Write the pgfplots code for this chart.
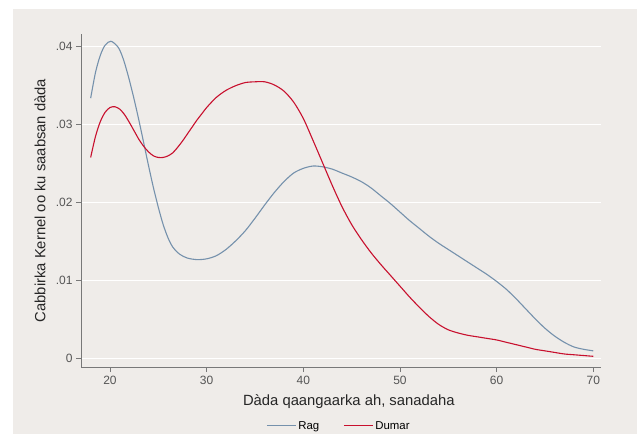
\documentclass[border=0pt]{standalone}
\usepackage{pgfplots}
\pgfplotsset{compat=1.18}
\usepackage{fontspec}
\setmainfont{Liberation Sans}

\definecolor{bgc}{RGB}{239,236,233}
\definecolor{rag}{RGB}{117,145,172}
\definecolor{dumar}{RGB}{200,16,46}
\definecolor{axc}{RGB}{120,120,120}
\definecolor{tickc}{RGB}{85,85,85}

\begin{document}
\begin{tikzpicture}
\useasboundingbox (0pt,0pt) rectangle (637pt,434pt);
\fill[bgc] (13pt,0pt) rectangle (637pt,425pt);
\begin{axis}[
  at={(81pt,67pt)}, anchor=south west,
  scale only axis, width=520pt, height=333pt,
  xmin=17, xmax=70.8, ymin=-0.00107, ymax=0.04163,
  axis x line*=bottom, axis y line*=left,
  axis line style={axc, line width=1pt, -},
  xtick={20,30,...,70},
  ytick={0,0.01,0.02,0.03,0.04},
  yticklabels={0,.01,.02,.03,.04},
  tick align=outside, major tick length=5pt,
  tick style={axc, line width=0.8pt},
  ymajorgrids, grid style={white, line width=1pt},
  /pgf/number format/assume math mode=true,
  tick label style={tickc, font=\fontsize{12}{14}\selectfont},
  xticklabel style={yshift=-1pt},
  scaled y ticks=false,
  xlabel={Dàda qaangaarka ah, sanadaha},
  ylabel={Cabbirka Kernel oo ku saabsan dàda},
  label style={black!85, font=\fontsize{14.8}{17}\selectfont},
  xlabel style={at={(axis description cs:0.515,-0.105)}, anchor=center},
  ylabel style={at={(axis description cs:-0.079,0.5)}, anchor=center},
  legend columns=2,
  legend style={draw=none, fill=none, at={(0.496,-0.177)}, anchor=center,
    font=\fontsize{11.4}{13}\selectfont,
    /tikz/every even column/.append style={column sep=22pt}},
  legend image code/.code={\draw[#1] (0pt,0pt) -- (29pt,0pt);},
]
% Rag
\addplot[rag, line width=1.1pt, smooth] coordinates {
(18,.0334) (18.5,.0367) (19,.0389) (19.5,.0402) (20.1,.0407)
(20.86,.0399) (21.38,.0384) (21.9,.0362) (22.41,.0337) (22.93,.0309)
(23.45,.0279) (23.96,.0249) (24.48,.0220) (25,.0194) (25.5,.0172)
(26,.0155) (26.5,.0143) (27.2,.0134) (28,.0129) (29,.0127)
(30,.0128) (31,.0132) (32,.0140) (33,.0151) (34,.0164)
(35,.0180) (36,.0197) (37,.0213) (38,.0227) (39,.0238)
(40,.0244) (41,.0247) (42,.0246) (43,.0243) (44,.0238)
(45,.0233) (46,.0227) (47,.0219) (48,.0209) (49,.0199)
(50,.0188) (51,.0177) (52,.0167) (53,.0157) (54,.0148)
(55,.0140) (56,.0132) (57,.0124) (58,.0116) (59,.0108)
(60,.0099) (61,.0089) (62,.0077) (63,.0064) (64,.0051)
(65,.0039) (66,.0029) (67,.0021) (68,.0015) (69,.0012)
(70,.0010)
};
\addlegendentry{Rag}
% Dumar
\addplot[dumar, line width=1.1pt, smooth] coordinates {
(18,.0258) (18.5,.0285) (19,.0304) (19.5,.0316) (20,.0322)
(20.5,.0323) (21,.0320) (21.5,.0313) (22,.0303) (22.5,.0292)
(23,.0281) (23.5,.0272) (24,.0265) (24.5,.0260) (25,.0258)
(25.5,.0258) (26,.0260) (26.5,.0264) (27,.0271) (27.5,.0279)
(28,.0288) (28.5,.0297) (29,.0306) (29.5,.0314) (30,.0322)
(31,.0335) (32,.0344) (33,.0350) (34,.0354) (35,.0355)
(36,.0355) (37,.0351) (38,.0343) (39,.0329) (40,.0308)
(41,.0280) (42,.0251) (43,.0222) (44,.0195) (45,.0172)
(46,.0153) (47,.0136) (48,.0121) (49,.0107) (50,.0093)
(51,.0079) (52,.0066) (53,.0054) (54,.0044) (55,.0037)
(56,.0033) (57,.0030) (58,.0028) (59,.0026) (60,.0024)
(61,.0021) (62,.0018) (63,.0015) (64,.0012) (65,.0010)
(66,.0008) (67,.0006) (68,.0005) (69,.0004) (70,.0003)
};
\addlegendentry{Dumar}
\end{axis}
\end{tikzpicture}
\end{document}
